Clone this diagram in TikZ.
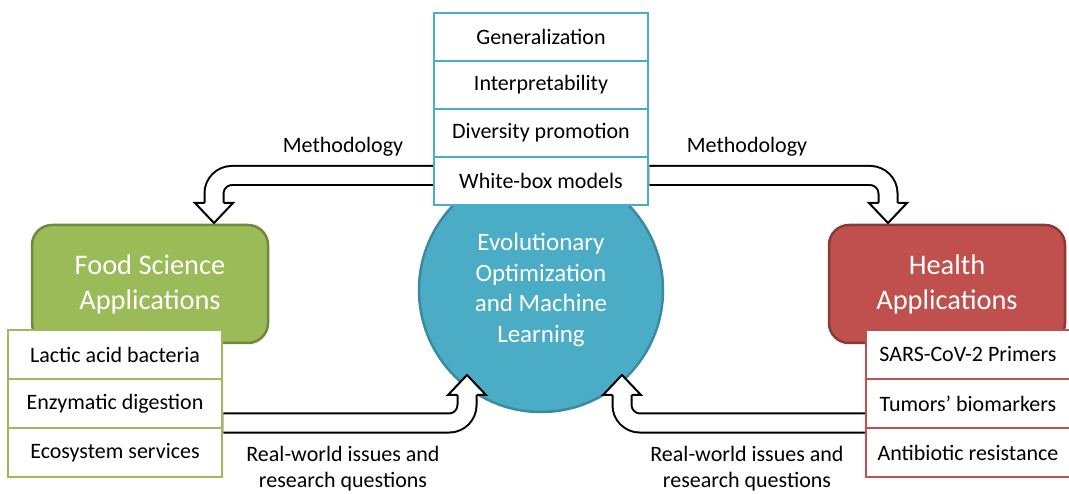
\documentclass[tikz,border=0pt]{standalone}
\usepackage{fontspec}
\setmainfont{Carlito}
\definecolor{evoblue}{HTML}{4BACC6}
\definecolor{evoedge}{HTML}{3A8BA1}
\definecolor{foodgreen}{HTML}{9BBB59}
\definecolor{foodedge}{HTML}{71893F}
\definecolor{healthred}{HTML}{C0504D}
\definecolor{healthedge}{HTML}{8C3836}

\begin{document}
\begin{tikzpicture}[x=1pt,y=-1pt,
  txt/.style={font=\fontsize{22}{26}\selectfont},
  stackbox/.style={txt,draw=evoblue,line width=2.5pt,fill=white,minimum width=214pt,minimum height=48pt,inner sep=0pt},
  listbox/.style={txt,line width=2.5pt,fill=white,minimum height=49pt,inner sep=0pt},
  titlebox/.style={rounded corners=20pt,line width=2.5pt,minimum width=236pt,minimum height=118pt,text=white,align=center,font=\fontsize{28.4}{35}\selectfont},
  bigarrow/.style={line width=2pt,double=white,double distance=17pt,rounded corners=18pt},
  bighead/.style={fill=white,line width=2pt,line join=miter}]
\useasboundingbox (0,0) rectangle (1069,494);

% core
\node[circle,fill=evoblue,draw=evoedge,line width=2.5pt,minimum size=244pt,text=white,align=center,
  font=\fontsize{25}{30.5}\selectfont] (evo) at (541,290) {Evolutionary\\Optimization\\and Machine\\Learning};

% arrow ends
\coordinate (mLbase) at (214,203);
\coordinate (mLtip) at (214,223);
\coordinate (mRbase) at (888,203);
\coordinate (mRtip) at (888,223);
\coordinate (rLbase) at (467,395);
\coordinate (rLtip) at (467,375);
\coordinate (rRbase) at (622,395);
\coordinate (rRtip) at (622,375);

% properties
\node[stackbox] (gen) at (541,37) {Generalization};
\node[stackbox] (interp) at (541,85) {Interpretability};
\node[stackbox] (divers) at (541,133) {Diversity promotion};
\node[stackbox] (whitebox) at (541,181) {White-box models};

% application areas
\node[titlebox,fill=foodgreen,draw=foodedge] (food) at (150,284) {Food Science\\Applications};
\node[titlebox,fill=healthred,draw=healthedge] (health) at (947,284) {Health\\Applications};

\node[listbox,draw=foodgreen,minimum width=214pt] (lactic) at (115,354.5) {Lactic acid bacteria};
\node[listbox,draw=foodgreen,minimum width=214pt] (enzyme) at (115,403.5) {Enzymatic digestion};
\node[listbox,draw=foodgreen,minimum width=214pt] (ecosys) at (115,452.5) {Ecosystem services};

\node[listbox,draw=healthred,minimum width=204pt] (sars) at (968,354.5) {SARS-CoV-2 Primers};
\node[listbox,draw=healthred,minimum width=204pt] (tumor) at (968,403.5) {Tumors’ biomarkers};
\node[listbox,draw=healthred,minimum width=204pt] (antibio) at (968,452.5) {Antibiotic resistance};

% methodology arrows
\draw[bigarrow] ([yshift=5.5pt]whitebox.west) -| (mLbase);
\filldraw[bighead] ([xshift=-9.5pt]mLbase) -- ++(-9.5,0) -- (mLtip) -- ([xshift=19pt]mLbase) -- ([xshift=9.5pt]mLbase);
\draw[bigarrow] ([yshift=5.5pt]whitebox.east) -| (mRbase);
\filldraw[bighead] ([xshift=-9.5pt]mRbase) -- ++(-9.5,0) -- (mRtip) -- ([xshift=19pt]mRbase) -- ([xshift=9.5pt]mRbase);

% real-world arrows
\draw[bigarrow] ([yshift=-19.5pt]enzyme.east) -| (rLbase);
\filldraw[bighead] ([xshift=-9.5pt]rLbase) -- ++(-9.5,0) -- (rLtip) -- ([xshift=19pt]rLbase) -- ([xshift=9.5pt]rLbase);
\draw[bigarrow] ([yshift=-19.5pt]tumor.west) -| (rRbase);
\filldraw[bighead] ([xshift=-9.5pt]rRbase) -- ++(-9.5,0) -- (rRtip) -- ([xshift=19pt]rRbase) -- ([xshift=9.5pt]rRbase);

% labels
\node[txt] (methL) at (343,147) {Methodology};
\node[txt] (methR) at (747,147) {Methodology};
\node[txt,align=center] (realL) at (343,469) {Real-world issues and\\research questions};
\node[txt,align=center] (realR) at (747,469) {Real-world issues and\\research questions};
\end{tikzpicture}
\end{document}
